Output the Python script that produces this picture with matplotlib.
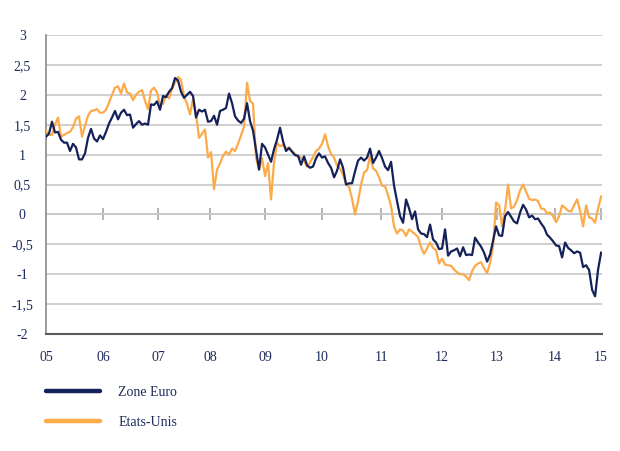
import numpy as np
import matplotlib.pyplot as plt
from matplotlib.lines import Line2D

# points are roughly 3 weeks apart, from start of 2005 to start of 2015
zone_euro = [
    1.30, 1.35, 1.55, 1.37, 1.38, 1.25, 1.20, 1.20, 1.06, 1.18,
    1.12, 0.92, 0.92, 1.02, 1.28, 1.43, 1.27, 1.22, 1.32, 1.26,
    1.38, 1.52, 1.62, 1.73, 1.59, 1.70, 1.75, 1.66, 1.67, 1.45,
    1.51, 1.56, 1.50, 1.52, 1.50, 1.84, 1.83, 1.89, 1.75, 1.98,
    1.96, 2.05, 2.11, 2.28, 2.24, 2.05, 1.95, 2.00, 2.05, 1.98,
    1.62, 1.75, 1.72, 1.75, 1.55, 1.56, 1.65, 1.50, 1.73, 1.75,
    1.78, 2.02, 1.86, 1.64, 1.57, 1.53, 1.60, 1.86, 1.56, 1.40,
    1.08, 0.75, 1.18, 1.12, 1.00, 0.88, 1.09, 1.25, 1.45, 1.22,
    1.06, 1.11, 1.05, 0.99, 0.98, 0.83, 0.97, 0.82, 0.78, 0.80,
    0.94, 1.02, 0.95, 0.97, 0.86, 0.78, 0.62, 0.73, 0.92, 0.78,
    0.50, 0.52, 0.52, 0.72, 0.90, 0.95, 0.90, 0.95, 1.10, 0.86,
    0.95, 1.06, 0.94, 0.80, 0.74, 0.88, 0.48, 0.22, -0.03, -0.14,
    0.25, 0.10, -0.08, 0.05, -0.25, -0.32, -0.33, -0.38, -0.17, -0.42,
    -0.47, -0.58, -0.57, -0.25, -0.69, -0.62, -0.60, -0.57, -0.70, -0.55,
    -0.68, -0.67, -0.68, -0.39, -0.47, -0.54, -0.64, -0.79, -0.67, -0.44,
    -0.20, -0.35, -0.36, -0.03, 0.04, -0.04, -0.12, -0.15, 0.03, 0.16,
    0.08, -0.05, -0.02, -0.08, -0.07, -0.15, -0.22, -0.34, -0.39, -0.45,
    -0.52, -0.53, -0.72, -0.47, -0.56, -0.60, -0.65, -0.62, -0.64, -0.88,
    -0.85, -0.93, -1.26, -1.37, -0.92, -0.64,
]

etats_unis = [
    1.40, 1.33, 1.33, 1.50, 1.62, 1.30, 1.33, 1.36, 1.38, 1.46,
    1.60, 1.64, 1.30, 1.48, 1.65, 1.73, 1.74, 1.76, 1.70, 1.70,
    1.75, 1.87, 2.00, 2.12, 2.14, 2.02, 2.19, 2.04, 2.02, 1.91,
    2.00, 2.05, 2.08, 1.90, 1.76, 2.07, 2.12, 2.04, 1.83, 1.85,
    2.00, 1.94, 2.10, 2.20, 2.30, 2.25, 1.97, 1.85, 1.67, 1.93,
    1.68, 1.28, 1.35, 1.42, 0.95, 1.04, 0.42, 0.75, 0.85, 0.98,
    1.05, 1.00, 1.10, 1.06, 1.18, 1.32, 1.47, 2.20, 1.90, 1.85,
    0.95, 0.75, 0.94, 0.64, 0.86, 0.25, 0.87, 1.20, 1.14, 1.16,
    1.10, 1.12, 1.05, 1.01, 0.97, 0.95, 0.90, 0.80, 0.87, 0.96,
    1.06, 1.10, 1.18, 1.34, 1.14, 1.01, 0.95, 0.82, 0.77, 0.66,
    0.51, 0.46, 0.26, 0.00, 0.22, 0.50, 0.70, 0.74, 0.98, 0.77,
    0.73, 0.62, 0.48, 0.47, 0.32, 0.14, -0.20, -0.32, -0.25, -0.27,
    -0.36, -0.25, -0.29, -0.33, -0.38, -0.55, -0.66, -0.57, -0.47, -0.56,
    -0.60, -0.82, -0.74, -0.84, -0.85, -0.86, -0.92, -0.97, -1.00, -1.00,
    -1.04, -1.10, -0.95, -0.86, -0.82, -0.80, -0.90, -0.98, -0.81, -0.53,
    0.20, 0.15, -0.20, 0.08, 0.50, 0.10, 0.13, 0.24, 0.40, 0.50,
    0.38, 0.26, 0.24, 0.25, 0.22, 0.10, 0.09, 0.02, 0.03, -0.03,
    -0.13, -0.03, 0.15, 0.11, 0.06, 0.05, 0.15, 0.25, 0.06, -0.20,
    0.15, -0.05, -0.07, -0.14, 0.10, 0.30,
]

# where the year labels sit, in observation index
year_pos = [0, 19, 37.3, 54.7, 73, 92, 111.7, 132, 150.3, 169.7, 185]
year_labels = ['05', '06', '07', '08', '09', '10', '11', '12', '13', '14', '15']
y_ticks = [-2, -1.5, -1, -0.5, 0, 0.5, 1, 1.5, 2, 2.5, 3]
y_labels = ['-2', '-1,5', '-1', '-0,5', '0', '0,5', '1', '1,5', '2', '2,5', '3']

navy = '#15215a'
orange = '#fbab4a'
text_col = '#1c2a5c'

plt.rcParams['font.family'] = ['Liberation Serif', 'DejaVu Serif']

fig = plt.figure(figsize=(6.2, 4.51), dpi=100)
ax = fig.add_axes([46 / 620, 1 - 334 / 451, 556 / 620, 299 / 451])

x = np.arange(len(zone_euro))
ax.plot(x, etats_unis, color=orange, lw=1.6, zorder=3)
ax.plot(x, zone_euro, color=navy, lw=1.6, zorder=4)

ax.set_xlim(0, 185.3)
ax.set_ylim(-2, 3)

ax.set_yticks(y_ticks)
ax.set_yticklabels(y_labels)
ax.set_xticks(year_pos)
ax.set_xticklabels(year_labels)
ax.tick_params(axis='y', length=0, pad=17, labelsize=10, labelcolor=text_col)
ax.tick_params(axis='x', length=0, pad=12, labelsize=10, labelcolor=text_col)
for lab in ax.get_yticklabels():
    lab.set_horizontalalignment('center')

ax.grid(axis='y', color='#c8c8c8', lw=1.2)
ax.set_axisbelow(True)

for s in ['top', 'right']:
    ax.spines[s].set_visible(False)
ax.spines['left'].set_color('#8a8a8a')
ax.spines['left'].set_linewidth(1.2)
ax.spines['bottom'].set_color('#5a5a5a')
ax.spines['bottom'].set_linewidth(1.5)

# small year ticks on the zero line
zero_ax = ax.secondary_xaxis(0.4)
zero_ax.set_xticks(year_pos[1:])
zero_ax.tick_params(direction='inout', length=8, width=1.2, color='#a8a8a8', labelbottom=False)
zero_ax.spines['bottom'].set_color('#c8c8c8')
zero_ax.spines['bottom'].set_linewidth(1.2)

handles = [
    Line2D([], [], color=navy, lw=3.2, solid_capstyle='round'),
    Line2D([], [], color=orange, lw=3.2, solid_capstyle='round'),
]
leg = fig.legend(handles, ['Zone Euro', 'Etats-Unis'], loc='upper left',
                 bbox_to_anchor=(46 / 620, 1 - 386 / 451), frameon=False,
                 borderpad=0, borderaxespad=0, handlelength=3.9,
                 handletextpad=1.3, labelspacing=1.2, fontsize=10)
for t in leg.get_texts():
    t.set_color(text_col)

fig.savefig('out.png', dpi=100)
